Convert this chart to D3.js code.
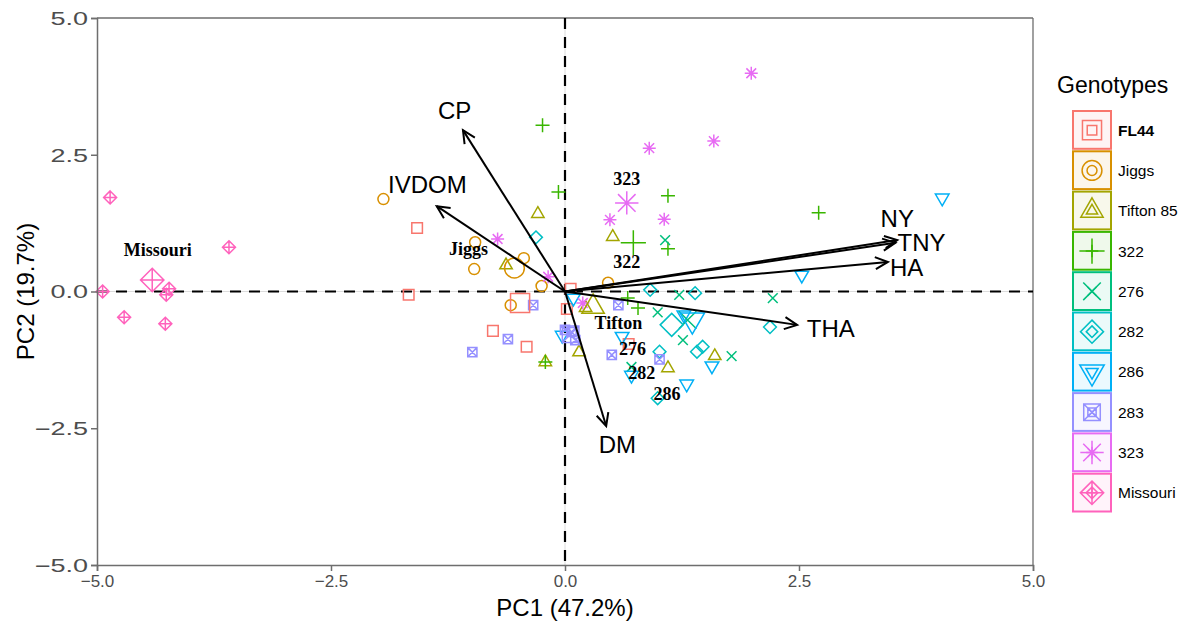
<!DOCTYPE html>
<html><head><meta charset="utf-8">
<script src="https://cdn.jsdelivr.net/npm/d3@7"></script>
<style>
body{margin:0;background:#fff}
text{font-family:"Liberation Sans",Arial,sans-serif}
</style>
</head><body>
<svg id="chart" width="1188" height="624"></svg>
<script>
// ---------- DATA ----------
const genotypes = ["FL44","Jiggs","Tifton 85","322","276","282","286","283","323","Missouri"];
const genoColors = ["#F8766D","#D89000","#A3A500","#39B600","#00BF7D","#00BFC4","#00B0F6","#9590FF","#E76BF3","#FF62BC"];
const genoShapes = ["square","circle","triangle","plus","cross","diamond","triangleDown","squareCross","asterisk","diamondPlus"];

const ptsFL44 = [[-1.58,1.16],[-1.67,-0.06],[-0.77,-0.72],[-0.41,-1.01],[0.06,0.05],[0.02,-0.32],[0.68,-0.96]];
const ptsJiggs = [[-1.94,1.69],[-0.96,0.90],[-0.97,0.41],[-0.44,0.61],[-0.25,0.10],[-0.58,-0.25],[0.46,0.16]];
const ptsTifton85 = [[-0.29,1.42],[-0.63,0.48],[0.51,1.00],[0.15,-1.11],[-0.21,-1.29],[0.22,-0.30],[1.60,-1.18],[1.10,-1.40]];
const pts322 = [[-0.24,3.04],[-0.07,1.82],[1.10,1.75],[2.71,1.44],[1.10,0.78],[0.67,-0.12],[0.78,-0.30],[-0.21,-1.29]];
const pts276 = [[1.07,0.94],[1.22,-0.06],[0.99,-0.38],[1.26,-0.89],[1.78,-1.18],[2.22,-0.12],[0.71,-1.38]];
const pts282 = [[-0.31,0.99],[0.91,0.03],[1.39,-0.03],[2.19,-0.65],[1.01,-1.10],[1.41,-1.10],[1.47,-1.01],[0.99,-1.95]];
const pts286 = [[4.03,1.71],[2.53,0.30],[-0.03,-0.80],[0.09,-0.12],[0.61,-0.82],[0.71,-1.53],[1.57,-1.36],[1.30,-1.69],[1.27,-0.43]];
const pts283 = [[-0.34,-0.25],[-0.61,-0.87],[-0.99,-1.11],[0.00,-0.70],[0.07,-0.74],[0.11,-0.89],[0.57,-0.25],[0.50,-1.16],[1.01,-1.24]];
const pts323 = [[1.99,3.99],[1.59,2.75],[0.90,2.62],[0.48,1.31],[1.06,1.32],[-0.72,0.96],[-0.18,0.27],[0.19,-0.21]];
const ptsMissouri = [[-4.86,1.72],[-4.94,0.00],[-4.71,-0.47],[-4.27,-0.59],[-3.59,0.81],[-4.26,-0.06],[-4.23,0.05]];
const groupPoints = [ptsFL44,ptsJiggs,ptsTifton85,pts322,pts276,pts282,pts286,pts283,pts323,ptsMissouri];

// group centroids (large symbols), in genotype order
const centroidPC1 = [-0.48,-0.54,0.30,0.73,1.31,1.14,1.36,0.06,0.66,-4.41];
const centroidPC2 = [-0.21,0.43,-0.28,0.89,-0.52,-0.61,-0.52,-0.78,1.62,0.21];

// group text labels
const groupLabelText = ["Missouri","Jiggs","323","322","Tifton","276","282","286"];
const groupLabelPC1 = [-4.35,-1.03,0.66,0.66,0.57,0.72,0.82,1.09];
const groupLabelPC2 = [0.76,0.78,2.06,0.54,-0.57,-1.05,-1.49,-1.87];

// variable loadings (arrows)
const loadingNames = ["CP","IVDOM","DM","NY","TNY","HA","THA"];
const loadingPC1 = [-1.09,-1.37,0.44,3.55,3.53,3.45,2.48];
const loadingPC2 = [2.95,1.56,-2.46,0.94,0.89,0.54,-0.61];
const loadingLabelPC1 = [-1.18,-1.47,0.56,3.55,3.81,3.65,2.84];
const loadingLabelPC2 = [3.30,1.95,-2.79,1.33,0.90,0.43,-0.67];

const axisTicks = [-5.0,-2.5,0.0,2.5,5.0];
const xTitle = "PC1 (47.2%)";
const yTitle = "PC2 (19.7%)";
const legendTitle = "Genotypes";

// ---------- DRAW ----------
const svg = d3.select("#chart");
const L = 97, R = 1033, T = 18, B = 565;
const x = d3.scaleLinear().domain([-5,5]).range([L,R]);
const y = d3.scaleLinear().domain([-5,5]).range([B,T]);

function shapePath(type, r){
  const a = r*0.75;
  switch(type){
    case "square": return `M${-r},${-r}H${r}V${r}H${-r}Z`;
    case "circle": return `M${r},0A${r},${r} 0 1,1 ${-r},0A${r},${r} 0 1,1 ${r},0Z`;
    case "triangle": return `M0,${-r*1.155}L${r},${r*0.577}L${-r},${r*0.577}Z`;
    case "triangleDown": return `M0,${r*1.155}L${r},${-r*0.577}L${-r},${-r*0.577}Z`;
    case "plus": return `M${-r},0H${r}M0,${-r}V${r}`;
    case "cross": return `M${-a},${-a}L${a},${a}M${-a},${a}L${a},${-a}`;
    case "diamond": return `M0,${-r}L${r},0L0,${r}L${-r},0Z`;
    case "squareCross": return `M${-r},${-r}H${r}V${r}H${-r}ZM${-r},${-r}L${r},${r}M${-r},${r}L${r},${-r}`;
    case "asterisk": return `M${-r},0H${r}M0,${-r}V${r}M${-a},${-a}L${a},${a}M${-a},${a}L${a},${-a}`;
    case "diamondPlus": return `M0,${-r}L${r},0L0,${r}L${-r},0ZM${-r},0H${r}M0,${-r}V${r}`;
  }
}
const smallR = {square:5.3,circle:5.5,triangle:6.2,triangleDown:6.8,plus:7,cross:6.5,diamond:6.4,squareCross:4.6,asterisk:6.5,diamondPlus:6.5};
const bigScale = 1.8;

// frame
svg.append("line").attr("x1",L).attr("x2",R).attr("y1",T).attr("y2",T).attr("stroke","#6e6e6e").attr("stroke-width",1.3);
svg.append("line").attr("x1",R).attr("x2",R).attr("y1",T).attr("y2",B).attr("stroke","#6e6e6e").attr("stroke-width",1.3);

// zero reference lines
svg.append("line").attr("x1",L).attr("x2",R).attr("y1",y(0)).attr("y2",y(0)).attr("stroke","#dcdcdc").attr("stroke-width",1);
svg.append("line").attr("x1",x(0)).attr("x2",x(0)).attr("y1",T).attr("y2",B).attr("stroke","#dcdcdc").attr("stroke-width",1);
svg.append("line").attr("x1",L).attr("x2",R).attr("y1",y(0)).attr("y2",y(0)).attr("stroke","#000").attr("stroke-width",2.2).attr("stroke-dasharray","11,8");
svg.append("line").attr("x1",x(0)).attr("x2",x(0)).attr("y1",T).attr("y2",B).attr("stroke","#000").attr("stroke-width",2.2).attr("stroke-dasharray","11,8");

// points
const gPts = svg.append("g");
groupPoints.forEach((pts,gi)=>{
  gPts.selectAll(null).data(pts).enter().append("path")
    .attr("d", shapePath(genoShapes[gi], smallR[genoShapes[gi]]))
    .attr("transform", d=>`translate(${x(d[0])},${y(d[1])})`)
    .attr("fill","none").attr("stroke",genoColors[gi]).attr("stroke-width",1.5);
});
// centroids
gPts.selectAll(null).data(genotypes).enter().append("path")
  .attr("d",(d,i)=>shapePath(genoShapes[i], smallR[genoShapes[i]]*bigScale))
  .attr("transform",(d,i)=>`translate(${x(centroidPC1[i])},${y(centroidPC2[i])})`)
  .attr("fill","none").attr("stroke",(d,i)=>genoColors[i]).attr("stroke-width",1.5);

// arrows
const gArr = svg.append("g");
loadingNames.forEach((n,i)=>{
  const x0=x(0), y0=y(0), x1=x(loadingPC1[i]), y1=y(loadingPC2[i]);
  const ang=Math.atan2(y1-y0,x1-x0), hl=14, ha=Math.PI/7;
  gArr.append("line").attr("x1",x0).attr("y1",y0).attr("x2",x1).attr("y2",y1)
    .attr("stroke","#000").attr("stroke-width",2);
  const p1=[x1-hl*Math.cos(ang-ha), y1-hl*Math.sin(ang-ha)];
  const p2=[x1-hl*Math.cos(ang+ha), y1-hl*Math.sin(ang+ha)];
  gArr.append("path").attr("d",`M${p1[0]},${p1[1]}L${x1},${y1}L${p2[0]},${p2[1]}`)
    .attr("fill","none").attr("stroke","#000").attr("stroke-width",2).attr("stroke-linejoin","miter");
  gArr.append("text").attr("x",x(loadingLabelPC1[i])).attr("y",y(loadingLabelPC2[i]))
    .attr("text-anchor","middle").attr("dominant-baseline","central")
    .attr("font-size",24).attr("fill","#000").text(n);
});

// group labels
svg.append("g").selectAll("text").data(groupLabelText).enter().append("text")
  .attr("x",(d,i)=>x(groupLabelPC1[i])).attr("y",(d,i)=>y(groupLabelPC2[i]))
  .attr("text-anchor","middle").attr("dominant-baseline","central")
  .style("font-family","'Liberation Serif','Times New Roman',serif").attr("font-weight","bold")
  .attr("font-size",18).attr("fill","#000").text(d=>d);

// axes
const fmt = d3.format(".1f");
const xAxis = svg.append("g").attr("transform",`translate(0,${B})`)
  .call(d3.axisBottom(x).tickValues(axisTicks).tickFormat(d=>fmt(d).replace("-","\u2212")).tickSizeOuter(0).tickSize(6));
const yAxis = svg.append("g").attr("transform",`translate(${L},0)`)
  .call(d3.axisLeft(y).tickValues(axisTicks).tickFormat(d=>fmt(d).replace("-","\u2212")).tickSizeOuter(0).tickSize(6));
[xAxis,yAxis].forEach(a=>{
  a.select(".domain").attr("stroke","#6e6e6e").attr("stroke-width",1.5);
  a.selectAll(".tick line").attr("stroke","#6e6e6e").attr("stroke-width",1.5);
  a.selectAll(".tick text").attr("fill","#4d4d4d").style("font-family","'Liberation Sans',Arial,sans-serif");
});
xAxis.selectAll(".tick text").attr("font-size",17).attr("dy","0.9em").attr("y",7);
yAxis.selectAll(".tick text").attr("font-size",18).attr("x",-6).attr("dy","0.36em")
  .attr("transform","scale(1.5,1)");

svg.append("text").attr("x",(L+R)/2).attr("y",616).attr("text-anchor","middle")
  .attr("font-size",24).attr("fill","#000").text(xTitle);
svg.append("text").attr("transform",`translate(34,${(T+B)/2}) rotate(-90)`).attr("text-anchor","middle")
  .attr("font-size",24).attr("fill","#000").text(yTitle);

// legend
const lg = svg.append("g");
lg.append("text").attr("x",1057).attr("y",93).attr("font-size",23).attr("fill","#000").text(legendTitle);
const boxTop=110, boxH=40.3, boxX=1072, boxW=40;
genotypes.forEach((g,i)=>{
  const cy = boxTop + i*boxH + boxH/2;
  lg.append("rect").attr("x",boxX+1).attr("y",boxTop+i*boxH+1).attr("width",boxW-2).attr("height",boxH-2.5)
    .attr("fill",genoColors[i]).attr("fill-opacity",0.08).attr("stroke",genoColors[i]).attr("stroke-width",2);
  const s=genoShapes[i];
  lg.append("path").attr("d",shapePath(s,smallR[s]*0.9)).attr("transform",`translate(${boxX+boxW/2},${cy})`)
    .attr("fill","none").attr("stroke",genoColors[i]).attr("stroke-width",1.5);
  lg.append("path").attr("d",shapePath(s,smallR[s]*1.8)).attr("transform",`translate(${boxX+boxW/2},${cy})`)
    .attr("fill","none").attr("stroke",genoColors[i]).attr("stroke-width",1.5);
  lg.append("text").attr("x",1118).attr("y",cy).attr("dominant-baseline","central")
    .attr("font-size",15.5).attr("font-weight",i===0?"bold":"normal").attr("fill","#000").text(g);
});
</script>
</body></html>
